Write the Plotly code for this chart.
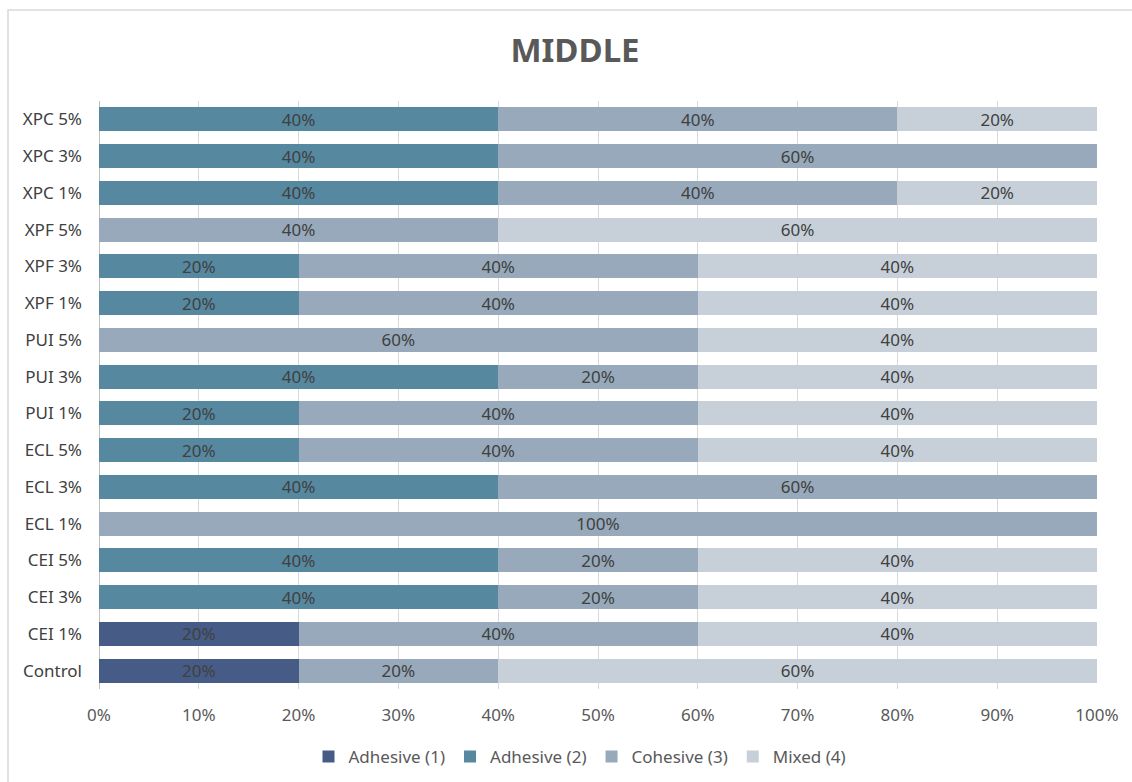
import plotly.graph_objects as go

categories = ["Control", "CEI 1%", "CEI 3%", "CEI 5%", "ECL 1%", "ECL 3%", "ECL 5%",
              "PUI 1%", "PUI 3%", "PUI 5%", "XPF 1%", "XPF 3%", "XPF 5%",
              "XPC 1%", "XPC 3%", "XPC 5%"]
adhesive1 = [0.2, 0.2, 0, 0, 0, 0, 0, 0, 0, 0, 0, 0, 0, 0, 0, 0]
adhesive2 = [0, 0, 0.4, 0.4, 0, 0.4, 0.2, 0.2, 0.4, 0, 0.2, 0.2, 0, 0.4, 0.4, 0.4]
cohesive3 = [0.2, 0.4, 0.2, 0.2, 1.0, 0.6, 0.4, 0.4, 0.2, 0.6, 0.4, 0.4, 0.4, 0.4, 0.6, 0.4]
mixed4 = [0.6, 0.4, 0.4, 0.4, 0, 0, 0.4, 0.4, 0.4, 0.4, 0.4, 0.4, 0.6, 0.2, 0, 0.2]
series_names = ["Adhesive (1)", "Adhesive (2)", "Cohesive (3)", "Mixed (4)"]
series_values = [adhesive1, adhesive2, cohesive3, mixed4]
colors = ["#465C87", "#5688A0", "#97A9BA", "#C7D0D9"]
x_ticks = [0, 0.1, 0.2, 0.3, 0.4, 0.5, 0.6, 0.7, 0.8, 0.9, 1.0]

FONT = "Noto Sans, Liberation Sans, sans-serif"

fig = go.Figure()
for name, vals, col in zip(series_names, series_values, colors):
    fig.add_trace(go.Bar(
        y=categories, x=vals, name=name, orientation="h",
        marker=dict(color=col, line=dict(width=0)),
        text=[f"{round(v*100)}%" if v > 0 else "" for v in vals],
        textposition="inside", insidetextanchor="middle",
        textfont=dict(color="#404040", size=17, family=FONT),
        constraintext="none", hoverinfo="skip",
    ))

W, H = 1132, 782
L, R, T, B = 99, 35, 101, 93
pw, ph = W - L - R, H - T - B

fig.update_layout(
    width=W, height=H,
    barmode="stack", bargap=0.35,
    margin=dict(l=L, r=R, t=T, b=B, autoexpand=False),
    paper_bgcolor="white", plot_bgcolor="white",
    title=dict(text="<b>MIDDLE</b>", x=575 / W, xanchor="center",
               y=1 - 50 / H, yanchor="middle",
               font=dict(family="Noto Sans, sans-serif", size=33, color="#595959")),
    showlegend=True,
    legend=dict(orientation="h", x=(580 - L) / pw, xanchor="center",
                y=-(757 - (T + ph)) / ph, yanchor="middle",
                font=dict(family=FONT, size=17, color="#595959"),
                traceorder="normal", itemwidth=30),
    xaxis=dict(range=[0, 1], tickvals=x_ticks, tickformat=".0%",
               showgrid=True, gridcolor="#D9D9D9", gridwidth=1,
               zeroline=True, zerolinecolor="#BFBFBF", zerolinewidth=1,
               tickfont=dict(family=FONT, size=17, color="#595959"),
               ticks="", ticklabelstandoff=14, fixedrange=True),
    yaxis=dict(categoryorder="array", categoryarray=categories,
               tickfont=dict(family=FONT, size=17, color="#404040"),
               ticks="", ticklabelstandoff=16, showgrid=False, fixedrange=True),
    uniformtext=dict(mode=False),
)

# chart border (top and left visible, rest beyond image)
fig.add_shape(type="rect", xref="paper", yref="paper",
              x0=(8 - L) / pw, x1=(W + 5 - L) / pw,
              y0=-(H + 5 - (T + ph)) / ph, y1=((T + ph) - 10) / ph,
              line=dict(color="#D9D9D9", width=1.5), fillcolor="rgba(0,0,0,0)",
              layer="below")

fig.write_html("out.html")
